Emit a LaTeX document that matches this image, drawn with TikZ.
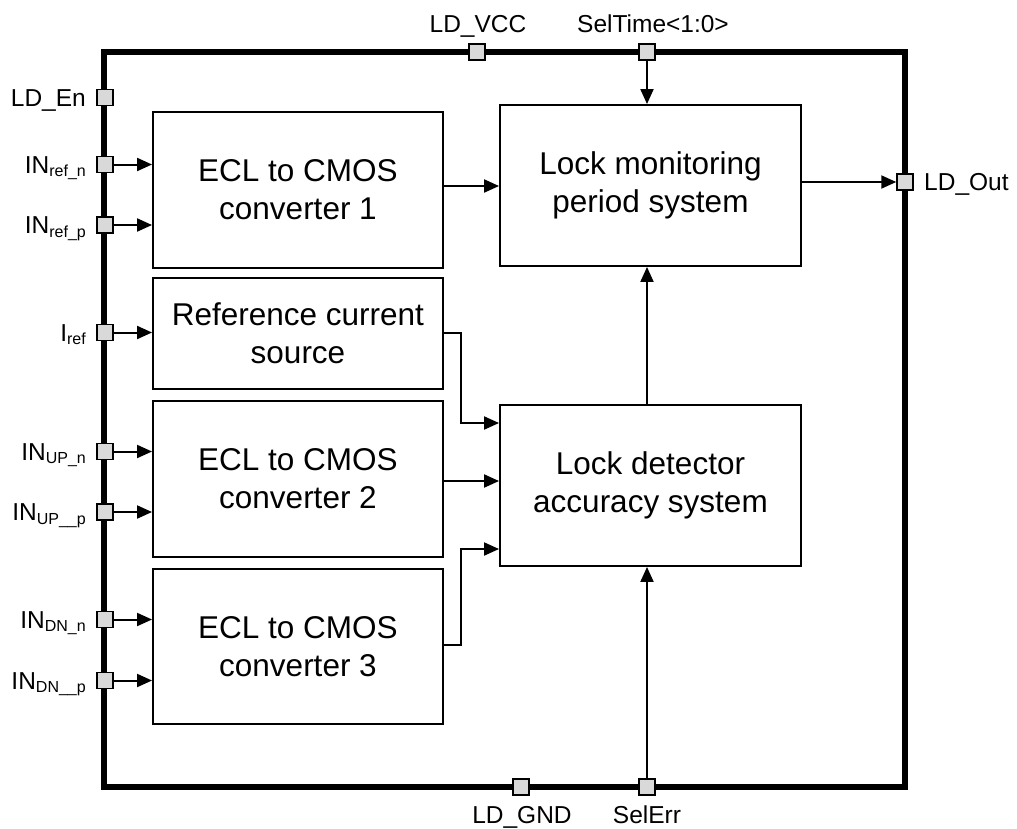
\documentclass[tikz,border=0pt]{standalone}
\usepackage{fontspec}
\setmainfont{Liberation Sans}
\usetikzlibrary{arrows.meta}
\definecolor{pingray}{HTML}{D9D9D9}
\begin{document}
\begin{tikzpicture}[x=1pt,y=-1pt,
  blk/.style={draw, line width=1.9pt, align=center, inner sep=0pt,
    font=\fontsize{31.5}{38}\selectfont},
  pinbox/.style={draw, fill=pingray, line width=1.5pt, minimum size=16pt, inner sep=0pt},
  lbl/.style={font=\fontsize{24.5}{28}\selectfont, inner sep=0pt},
  conn/.style={line width=2pt, -{Triangle[length=15pt,width=13pt]}}]
\useasboundingbox (0,0) rectangle (1017,828);
\newcommand{\sbs}[1]{\raisebox{-3.5pt}{\fontsize{16}{16}\selectfont #1}}
% chip frame
\node[draw, line width=5.5pt, minimum width=801pt, minimum height=735pt, inner sep=0pt] (chip) at (504.5,419.5) {};
% blocks
\node[blk, minimum width=290pt, minimum height=156pt] (e1) at (298,190) {ECL to CMOS\\converter 1};
\node[blk, minimum width=290pt, minimum height=111pt] (rc) at (298,333.5) {Reference current\\source};
\node[blk, minimum width=290pt, minimum height=156pt] (e2) at (298,479) {ECL to CMOS\\converter 2};
\node[blk, minimum width=290pt, minimum height=155pt] (e3) at (298,646.5) {ECL to CMOS\\converter 3};
\node[blk, minimum width=301pt, minimum height=161pt] (lm) at (650.5,185.5) {Lock monitoring\\period system};
\node[blk, minimum width=301pt, minimum height=161pt] (ld) at (650.5,485.5) {Lock detector\\accuracy system};
% pins
\node[pinbox] (pen) at (105,97.5) {};
\node[pinbox] (prn) at (105,164.5) {};
\node[pinbox] (prp) at (105,225) {};
\node[pinbox] (pir) at (105,332.5) {};
\node[pinbox] (pun) at (105,451.5) {};
\node[pinbox] (pup) at (105,512) {};
\node[pinbox] (pdn) at (105,619.5) {};
\node[pinbox] (pdp) at (105,680.5) {};
\node[pinbox] (pvcc) at (477,52) {};
\node[pinbox] (pst) at (647,52) {};
\node[pinbox] (pout) at (905,182) {};
\node[pinbox] (pgnd) at (521,787) {};
\node[pinbox] (pse) at (647,787) {};
% labels
\node[lbl, anchor=base east] (len) at (86,106.3) {LD\_En};
\node[lbl, anchor=base east] (lrn) at (86,173.3) {IN\sbs{ref\_n}};
\node[lbl, anchor=base east] (lrp) at (86,233.8) {IN\sbs{ref\_p}};
\node[lbl, anchor=base east] (lir) at (86,341.3) {I\sbs{ref}};
\node[lbl, anchor=base east] (lun) at (86,460.3) {IN\sbs{UP\_n}};
\node[lbl, anchor=base east] (lup) at (86,520.8) {IN\sbs{UP\_\_p}};
\node[lbl, anchor=base east] (ldn) at (86,628.3) {IN\sbs{DN\_n}};
\node[lbl, anchor=base east] (ldp) at (86,689.3) {IN\sbs{DN\_\_p}};
\node[lbl, anchor=base] (lvcc) at (478,32) {LD\_VCC};
\node[lbl, anchor=base] (lst) at (653,32) {SelTime<1:0>};
\node[lbl, anchor=base west] (lout) at (924,190.8) {LD\_Out};
\node[lbl, anchor=base] (lgnd) at (522,823) {LD\_GND};
\node[lbl, anchor=base] (lse) at (647,823) {SelErr};
% connectors
\foreach \p/\b in {prn/e1, prp/e1, pir/rc, pun/e2, pup/e2, pdn/e3, pdp/e3}
  \draw[conn] (\p.east) -- (\p.east -| \b.west);
\draw[conn] ([yshift=4pt]e1.east) -- ([yshift=4pt]e1.east -| lm.west);
\draw[conn] ([yshift=3.5pt]lm.east) -- ([yshift=3.5pt]lm.east -| pout.west);
\draw[conn] (pst.south) -- (pst.south |- lm.north);
\draw[conn] (pse.north) -- (pse.north |- ld.south);
\draw[conn] (ld.north -| pse) -- (lm.south -| pse);
\draw[conn] (pir -| rc.east) -- ++(17,0) |- ([yshift=62.5pt]ld.west);
\draw[conn] ([yshift=-2pt]e2.east) -- ([yshift=-2pt]e2.east -| ld.west);
\draw[conn] ([yshift=1.5pt]e3.east) -- ++(17,0) |- ([yshift=-63.5pt]ld.west);
\end{tikzpicture}
\end{document}
